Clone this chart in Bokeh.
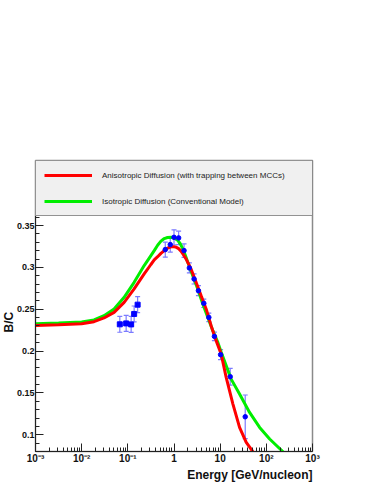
from bokeh.plotting import figure
from bokeh.models import (ColumnDataSource, Whisker, TeeHead, Legend, LegendItem, Title,
                          FixedTicker, CustomJSTickFormatter)
from bokeh.embed import file_html
from bokeh.resources import INLINE

# ---- model curves (B/C vs kinetic energy per nucleon, GeV/n) ----
aniso_energy = [0.001, 0.00316, 0.01, 0.0185, 0.0305, 0.0504, 0.0832, 0.137, 0.226, 0.316,
                0.373, 0.442, 0.521, 0.615, 0.724, 0.861, 1.0, 1.10, 1.26, 1.42, 1.585,
                1.82, 2.34, 3.01, 3.86, 4.97, 6.37, 8.18, 10.5, 13.5, 18.9, 26.3, 36.7, 51.3]
aniso_bc = [0.2307, 0.2315, 0.2328, 0.2352, 0.2396, 0.2463, 0.2583, 0.2743, 0.2922, 0.3035,
            0.3090, 0.3128, 0.3168, 0.3201, 0.3230, 0.3247, 0.3248, 0.3243, 0.3225, 0.3195, 0.3155,
            0.3102, 0.2982, 0.2822, 0.2663, 0.2504, 0.2304, 0.2125, 0.1965, 0.1686, 0.1367,
            0.1088, 0.0908, 0.0797]

iso_energy = [0.001, 0.00316, 0.01, 0.0185, 0.0305, 0.0504, 0.0832, 0.137, 0.226, 0.316,
              0.373, 0.442, 0.521, 0.615, 0.724, 0.861, 1.0, 1.20, 1.365, 1.545, 1.75,
              1.98, 2.25, 2.55, 3.27, 4.20, 5.41, 6.93, 8.91, 10.5, 17.3, 26.3, 43.4, 71.6,
              118.0, 230.0]
iso_bc = [0.2326, 0.2335, 0.2348, 0.2372, 0.2423, 0.2503, 0.2643, 0.2822, 0.3022, 0.3142,
          0.3201, 0.3265, 0.3315, 0.3345, 0.3358, 0.3360, 0.3352, 0.3325, 0.3283, 0.3225, 0.3148,
          0.3065, 0.2985, 0.2902, 0.2743, 0.2563, 0.2403, 0.2244, 0.2104, 0.1990, 0.1665,
          0.1487, 0.1267, 0.1088, 0.0949, 0.0797]

# ---- measurements ----
low_energy = [0.067, 0.092, 0.118, 0.137, 0.163]
low_bc = [0.2320, 0.2331, 0.2319, 0.2444, 0.2555]
low_err = [0.0095, 0.0095, 0.0095, 0.0095, 0.0095]

high_energy = [0.647, 0.83, 1.0, 1.26, 1.65, 2.15, 2.72, 3.38, 4.42, 5.68, 7.5, 10.2, 16.5, 34.9]
high_bc = [0.3213, 0.3273, 0.3360, 0.3353, 0.3201, 0.2994, 0.2862, 0.2722, 0.2571, 0.2403,
           0.2176, 0.1957, 0.1694, 0.1215]
high_err = [0.009, 0.009, 0.009, 0.008, 0.008, 0.006, 0.006, 0.006, 0.005, 0.005, 0.005,
            0.006, 0.010, 0.026]

x_major = [0.001, 0.01, 0.1, 1, 10, 100, 1000]
y_major = [0.1, 0.15, 0.2, 0.25, 0.3, 0.35]

x_minor = [m * 10.0 ** d for d in range(-3, 3) for m in range(2, 10)]
y_minor = [round(0.08 + 0.01 * i, 2) for i in range(32)]

FONT = "Liberation Sans"

p = figure(x_axis_type="log", x_range=(1e-3, 1e3), y_range=(0.08, 0.4278),
           frame_width=277, frame_height=291,
           min_border_left=35, min_border_right=54, min_border_top=160, min_border_bottom=33,
           output_backend="svg", toolbar_location=None)
p.xgrid.visible = False
p.ygrid.visible = False
p.outline_line_color = "#8a8a8a"
p.outline_line_width = 1.5
p.background_fill_color = "white"
p.border_fill_color = "white"

r_iso = p.line(iso_energy, iso_bc, line_color="#00ee00", line_width=3)
r_aniso = p.line(aniso_energy, aniso_bc, line_color="#ff0000", line_width=3)

def err_source(xs, ys, es):
    return ColumnDataSource(dict(x=xs, y=ys,
                                 upper=[y + e for y, e in zip(ys, es)],
                                 lower=[y - e for y, e in zip(ys, es)]))

ebar_color = "#7b7bff"
for xs, ys, es, marker, size in [(low_energy, low_bc, low_err, "square", 5),
                                 (high_energy, high_bc, high_err, "circle", 4.5)]:
    src = err_source(xs, ys, es)
    w = Whisker(source=src, base="x", upper="upper", lower="lower", dimension="height",
                line_color=ebar_color, line_width=1.2,
                upper_head=TeeHead(size=5, line_color=ebar_color, line_width=1.2),
                lower_head=TeeHead(size=5, line_color=ebar_color, line_width=1.2))
    p.add_layout(w)
    p.scatter("x", "y", source=src, marker=marker, size=size,
              fill_color="#0000ff", line_color="#0000ff")

# axes
p.xaxis.ticker = FixedTicker(ticks=x_major, minor_ticks=x_minor)
p.xaxis.formatter = CustomJSTickFormatter(code="""
const e = Math.round(Math.log10(tick));
if (e === 0) return "1";
if (e === 1) return "10";
const sup = {"-": "\u207b", "1": "\u00b9", "2": "\u00b2", "3": "\u00b3"};
return "10" + String(e).split("").map(c => sup[c]).join("");
""")
p.yaxis.ticker = FixedTicker(ticks=y_major, minor_ticks=y_minor)
p.yaxis.formatter = CustomJSTickFormatter(code="return String(Math.round(tick*100)/100);")

for ax in (p.xaxis[0], p.yaxis[0]):
    ax.major_tick_in = 8
    ax.major_tick_out = 0
    ax.minor_tick_in = 4
    ax.minor_tick_out = 0
    ax.axis_line_color = "#222222"
    ax.major_tick_line_color = "#222222"
    ax.minor_tick_line_color = "#222222"
    ax.major_label_text_font = FONT
    ax.major_label_text_font_style = "bold"
    ax.major_label_text_color = "#111111"
    ax.axis_label_standoff = 0
p.xaxis.major_label_text_font_size = "10px"
p.xaxis.major_label_standoff = 1
p.yaxis.major_label_text_font_size = "9px"
p.yaxis.major_label_standoff = 1

p.add_layout(Title(text="B/C", align="left", offset=119, standoff=-4, text_line_height=0.8,
                   text_font=FONT, text_font_style="bold", text_font_size="12px",
                   text_color="#111111"), "left")
p.add_layout(Title(text="Energy [GeV/nucleon]", align="right", standoff=-1, text_line_height=0.8,
                   text_font=FONT, text_font_style="bold", text_font_size="12px",
                   text_color="#111111"), "below")

legend = Legend(items=[
    LegendItem(label="Anisotropic Diffusion (with trapping between MCCs)", renderers=[r_aniso]),
    LegendItem(label="Isotropic Diffusion (Conventional Model)", renderers=[r_iso]),
], location="top_left", padding=8, spacing=14, glyph_height=12, glyph_width=48,
    label_height=12, label_width=203, label_standoff=10, margin=0,
    label_text_font=FONT, label_text_font_size="8px", label_text_color="#222222",
    background_fill_color="#f0f0f0", background_fill_alpha=1.0,
    border_line_color="#333333", border_line_width=1)
p.add_layout(legend)

open("out.html", "w").write(file_html(p, INLINE))
